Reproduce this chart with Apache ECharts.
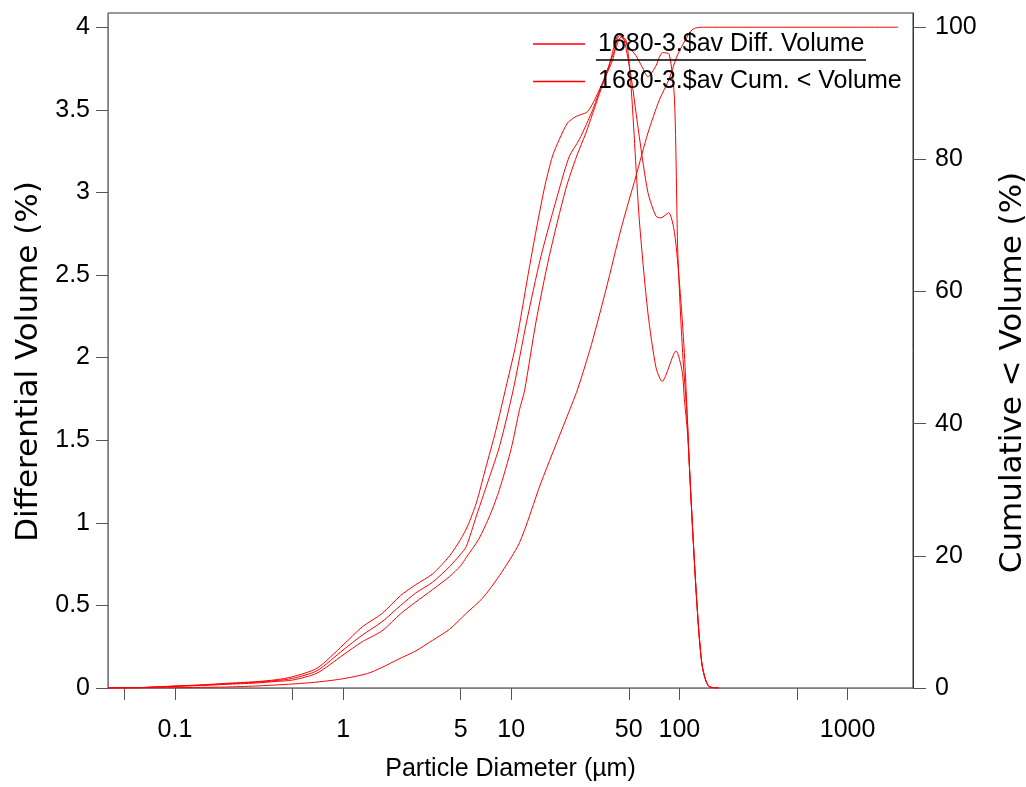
<!DOCTYPE html>
<html><head><meta charset="utf-8">
<script src="https://cdn.jsdelivr.net/npm/echarts@6/dist/echarts.min.js"></script>
<style>html,body{margin:0;padding:0;background:#fff}#c{width:1026px;height:787px}</style>
</head><body><div id="c"></div>
<script>
// ---- data ----
const seriesNames = ['1680-3.$av Diff. Volume', '1680-3.$av Cum. < Volume'];

const diffA_size = [0.04,0.06,0.1,0.15,0.2,0.3,0.4,0.5,0.7,1.0,1.3,1.7,2.2,2.7,3.4,4.3,5.0,5.5,6.2,7.0,8.1,9.3,10.5,11.2,13.1,15.7,17.6,19.3,21.6,24.3,28.5,33.4,40,44,48.2,51.6,57.7,65,72.6,78.9,95.5,103.8,107,111.6,114.7,120,125.6,131,136.4,143,150.6,172];
const diffA_vol  = [0,0.002,0.012,0.02,0.028,0.038,0.05,0.068,0.12,0.26,0.37,0.45,0.56,0.625,0.69,0.8,0.9,0.98,1.12,1.32,1.56,1.82,2.05,2.2,2.6,3.02,3.22,3.32,3.42,3.46,3.49,3.62,3.8,3.95,3.92,3.64,2.84,2.27,1.94,1.856,2.04,1.917,1.75,1.55,1.34,0.95,0.594,0.32,0.139,0.05,0.008,0];

const diffB_size = [0.04,0.06,0.1,0.15,0.2,0.3,0.4,0.5,0.7,1.0,1.3,1.7,2.2,2.7,3.4,4.3,5.0,5.4,6.2,7.0,8.5,10.3,12.3,15.0,19.3,22.2,25.4,30.5,36,42,45,47,51.6,57.7,65,72.6,77.6,86.3,93.5,100.5,107,111.6,114.7,120,125.6,131,136.4,143,150.6,172];
const diffB_vol  = [0,0.002,0.011,0.018,0.025,0.035,0.045,0.058,0.105,0.23,0.32,0.4,0.5,0.575,0.64,0.735,0.81,0.856,1.04,1.2,1.46,1.81,2.21,2.61,3.02,3.22,3.32,3.5,3.7,3.88,3.94,3.92,3.7,3.34,3.0,2.856,2.846,2.877,2.756,2.43,2.03,1.62,1.34,0.95,0.594,0.32,0.139,0.05,0.008,0];

const diffC_size = [0.04,0.06,0.1,0.15,0.2,0.3,0.4,0.5,0.7,1.0,1.3,1.7,2.2,2.7,3.4,4.3,5.0,5.4,6.4,7.5,8.5,10,11.2,12,14,16.8,21.1,24.5,27.8,33,38,44,50,55,60,65,72,79.5,87,93.5,97.9,104.5,111.6,114.7,120,125.6,131,136.4,143,150.6,172];
const diffC_vol  = [0,0.0015,0.01,0.016,0.022,0.03,0.04,0.048,0.09,0.2,0.28,0.345,0.45,0.52,0.595,0.675,0.74,0.79,0.9,1.05,1.2,1.45,1.685,1.8,2.21,2.61,3.02,3.22,3.36,3.58,3.76,3.96,3.88,3.83,3.76,3.7,3.76,3.846,3.836,3.56,2.63,2.03,1.62,1.34,0.95,0.594,0.32,0.139,0.05,0.008,0];

const cum_size = [0.04,0.1,0.2,0.3,0.5,0.7,1.0,1.4,1.7,2.15,2.7,3.4,4.3,5.4,6.75,8.5,11.2,15,21.1,24.8,30,36.6,45,55.2,65,76,87,96,108,120,137,2000];
const cum_val  = [0,0.05,0.15,0.3,0.6,0.9,1.4,2.2,3.1,4.4,5.6,7.2,8.9,11.3,13.6,17.0,22.0,31,40.6,45.2,52,60.3,69.5,77.5,84,89,92.2,95.4,98,99.7,100,100];

const xLabelValues = [0.1, 1, 5, 10, 50, 100, 1000];
const xTickValues  = [0.05, 0.1, 0.5, 1, 5, 10, 50, 100, 500, 1000];
const leftTickValues  = [0, 0.5, 1, 1.5, 2, 2.5, 3, 3.5, 4];
const rightTickValues = [0, 20, 40, 60, 80, 100];

// ---- chart ----
function zip(s, v) { return s.map((x, i) => [x, v[i]]); }
const FONT = "'Liberation Sans',Arial,sans-serif";
const TITLEFONT = "'DejaVu Sans',sans-serif";
const RED = '#ff0000';

function lineSeries(name, data, yIdx) {
  return {
    type: 'line', name: name, data: data, yAxisIndex: yIdx,
    showSymbol: false, symbol: 'none', smooth: 0.25,
    lineStyle: { color: RED, width: 1 }, itemStyle: { color: RED },
    emphasis: { disabled: true }, z: 3
  };
}

const chart = echarts.init(document.getElementById('c'), null, { renderer: 'canvas' });
chart.setOption({
  animation: false,
  backgroundColor: '#fff',
  grid: { left: 108, right: 113, top: 13, bottom: 99, containLabel: false, outerBoundsMode: 'none',
          show: true, borderColor: '#333', borderWidth: 1, backgroundColor: 'transparent' },
  legend: {
    data: seriesNames, orient: 'vertical', left: 533, top: 29, padding: 0,
    icon: 'rect', itemWidth: 52, itemHeight: 1.5, itemGap: 7.5,
    textStyle: { fontFamily: FONT, fontSize: 25, color: '#000', lineHeight: 30, padding: [0, 0, 0, 8] }
  },
  xAxis: {
    type: 'log', logBase: 10, min: 0.04, max: 2450,
    name: 'Particle Diameter (µm)', nameLocation: 'middle', nameGap: 69,
    nameTextStyle: { fontFamily: FONT, fontSize: 25, color: '#000' },
    axisLine: { show: true, onZero: false, lineStyle: { color: '#808080', width: 1 } },
    axisTick: { show: true, inside: false, length: 12, customValues: xTickValues, lineStyle: { color: '#555' } },
    axisLabel: { customValues: xLabelValues, margin: 30, fontFamily: FONT, fontSize: 25, color: '#000',
      formatter: v => String(parseFloat(Number(v).toPrecision(6))) },
    splitLine: { show: false }, minorTick: { show: false }
  },
  yAxis: [{
    type: 'value', min: 0, max: 4.086, position: 'left',
    name: 'Differential Volume (%)', nameLocation: 'middle', nameRotate: 90, nameGap: 57,
    nameTextStyle: { fontFamily: TITLEFONT, fontSize: 31, color: '#000', padding: [0, 22, 0, 0] },
    axisLine: { show: true, lineStyle: { color: '#808080', width: 1 } },
    axisTick: { show: true, length: 12, customValues: leftTickValues, lineStyle: { color: '#555' } },
    axisLabel: { customValues: leftTickValues, margin: 18, fontFamily: FONT, fontSize: 25, color: '#000' },
    splitLine: { show: false }
  }, {
    type: 'value', min: 0, max: 102.15, position: 'right',
    name: 'Cumulative < Volume (%)', nameLocation: 'middle', nameRotate: 90, nameGap: 84,
    nameTextStyle: { fontFamily: TITLEFONT, fontSize: 31, color: '#000', padding: [0, 44, 0, 0] },
    axisLine: { show: true, lineStyle: { color: '#333', width: 1 } },
    axisTick: { show: true, length: 13, customValues: rightTickValues, lineStyle: { color: '#555' } },
    axisLabel: { customValues: rightTickValues, margin: 22, fontFamily: FONT, fontSize: 25, color: '#000' },
    splitLine: { show: false }
  }],
  graphic: [{
    type: 'line', shape: { x1: 596, y1: 60, x2: 866, y2: 60 },
    style: { stroke: '#000', lineWidth: 1.5 }, z: 10
  }],
  series: [
    lineSeries(seriesNames[0], zip(diffA_size, diffA_vol), 0),
    lineSeries(seriesNames[0], zip(diffB_size, diffB_vol), 0),
    lineSeries(seriesNames[0], zip(diffC_size, diffC_vol), 0),
    lineSeries(seriesNames[1], zip(cum_size, cum_val), 1)
  ]
});
</script></body></html>
